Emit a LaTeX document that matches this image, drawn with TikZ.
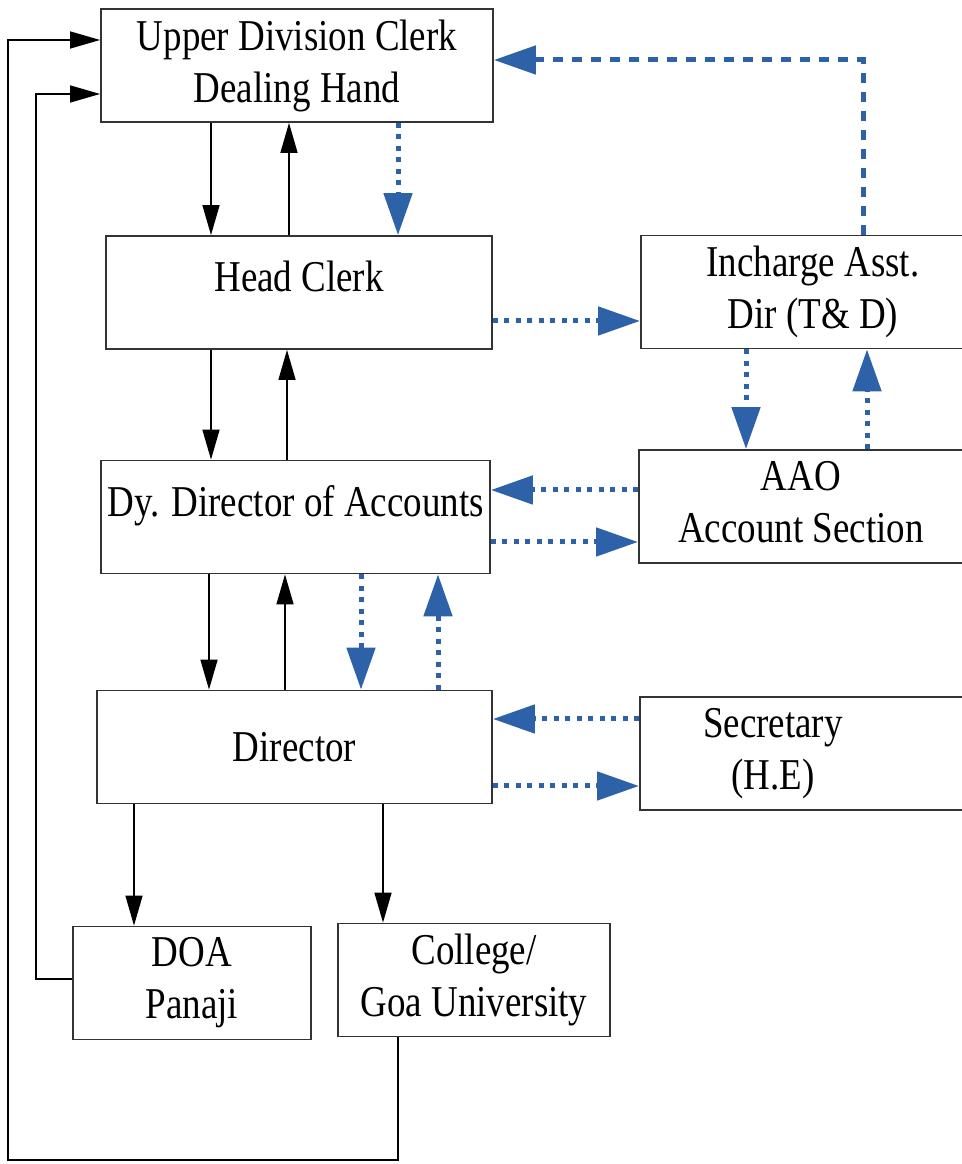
\documentclass[tikz,border=0pt]{standalone}
\usepackage{fontspec}
\setmainfont{Liberation Serif}[FakeStretch=0.84]
\usetikzlibrary{arrows.meta}
\definecolor{flowblue}{RGB}{46,98,168}

\begin{document}
\begin{tikzpicture}[x=1pt,y=1pt,
    box/.style={draw=black!80, line width=1.8pt, minimum height=113pt,
      font=\fontsize{44}{52}\selectfont},
    twobox/.style={box, align=center},
    rbox/.style={box, anchor=west, inner xsep=0pt},
    blk/.style={line width=1.5pt, -{Triangle[length=30pt,width=17pt]}},
    bdot/.style={flowblue, line width=5pt, dash pattern=on 5pt off 6.5pt,
      -{Triangle[length=42pt,width=28pt]}},
    bdash/.style={bdot, dash pattern=on 10pt off 9pt}]
  \useasboundingbox (0,0) rectangle (961,1164);

  % left column
  \node[twobox, minimum width=392pt] (udc) at (297,1098.5) {Upper Division Clerk\\Dealing Hand};
  \node[box, minimum width=386pt, text height=30pt, text depth=31pt] (hc) at (299,871.5) {Head Clerk};
  \node[box, minimum width=389pt, text height=30pt, text depth=30pt] (dda) at (295.5,647) {Dy. Director of Accounts};
  \node[box, minimum width=395pt] (dir) at (294.5,417) {Director};
  \node[twobox, minimum width=238pt] (doa) at (192,181) {DOA\\Panaji};
  \node[twobox, minimum width=272pt] (col) at (474,184) {College/\\Goa University};

  % right column, cut off at the page edge
  \node[rbox] (inc) at (640,872)
    {\makebox[344pt]{\begin{tabular}{@{}c@{}}Incharge Asst.\\Dir (T\& D)\end{tabular}}\hspace*{60pt}};
  \node[rbox] (aao) at (638,657.5)
    {\makebox[324pt]{\begin{tabular}{@{}c@{}}AAO\\Account Section\end{tabular}}\hspace*{60pt}};
  \node[rbox] (sec) at (639,410.5)
    {\makebox[266pt]{\begin{tabular}{@{}c@{}}Secretary\\(H.E)\end{tabular}}\hspace*{100pt}};

  % black arrows
  \draw[blk] (udc.south -| 211,0) -- (hc.north -| 211,0);
  \draw[blk] (hc.north -| 289,0) -- (udc.south -| 289,0);
  \draw[blk] (hc.south -| 211,0) -- (dda.north -| 211,0);
  \draw[blk] (dda.north -| 287,0) -- (hc.south -| 287,0);
  \draw[blk] (dda.south -| 209,0) -- (dir.north -| 209,0);
  \draw[blk] (dir.north -| 285,0) -- (dda.south -| 285,0);
  \draw[blk] (dir.south -| 134,0) -- (doa.north -| 134,0);
  \draw[blk] (dir.south -| 383,0) -- (col.north -| 383,0);

  % back to the clerk
  \draw[blk] (col.south -| 398,0) -- (398,4) -- (8,4) -- (8,1124) -- (udc.west |- 0,1124);
  \draw[blk] (doa.west |- 0,185) -- (36,185) -- (36,1070) -- (udc.west |- 0,1070);

  % blue flows
  \draw[bdot] (udc.south -| 398,0) -- (hc.north -| 398,0);
  \draw[bdash] (inc.north -| 863,0) -- (863,1104) -- (udc.east |- 0,1104);
  \draw[bdot] (hc.east |- 0,843) -- (inc.west |- 0,843);
  \draw[bdot] (inc.south -| 746,0) -- (aao.north -| 746,0);
  \draw[bdot] (aao.north -| 867,0) -- (inc.south -| 867,0);
  \draw[bdot] (aao.west |- 0,674) -- (dda.east |- 0,674);
  \draw[bdot] (dda.east |- 0,622) -- (aao.west |- 0,622);
  \draw[bdot] (dda.south -| 361,0) -- (dir.north -| 361,0);
  \draw[bdot] (dir.north -| 438,0) -- (dda.south -| 438,0);
  \draw[bdot] (sec.west |- 0,445) -- (dir.east |- 0,445);
  \draw[bdot] (dir.east |- 0,378) -- (sec.west |- 0,378);
\end{tikzpicture}
\end{document}
